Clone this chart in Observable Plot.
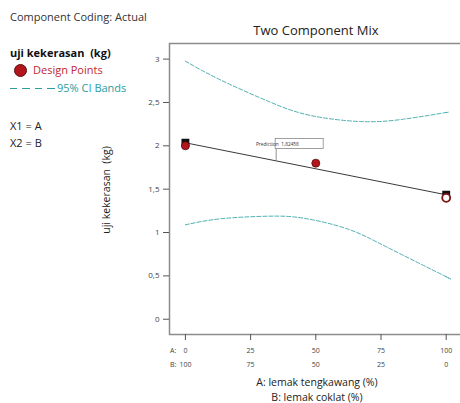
<!DOCTYPE html>
<html>
<head>
<meta charset="utf-8">
<script src="https://cdn.jsdelivr.net/npm/d3@7"></script>
<script src="https://cdn.jsdelivr.net/npm/@observablehq/plot@0.6"></script>
<style>
  html, body { margin: 0; padding: 0; background: #fff; }
  #wrap { position: relative; width: 460px; height: 403px; font-family: "Open Sans", "Noto Sans", sans-serif; color: #222; overflow: hidden; }
  #wrap svg { position: absolute; left: 0; top: 0; }
  .t { position: absolute; white-space: nowrap; line-height: 14px; }
</style>
</head>
<body>
<div id="wrap"></div>
<script>
// ---- data ----
const aTicks = [0, 25, 50, 75, 100];
const aTickLabels = ["0", "25", "50", "75", "100"];
const bTickLabels = ["100", "75", "50", "25", "0"];
const yTicks = [0, 0.5, 1, 1.5, 2, 2.5, 3];
const yTickLabels = ["0", "0,5", "1", "1,5", "2", "2,5", "3"];

// Design points (A %, hardness kg)
const designA = [0, 50];
const designY = [2.0, 1.8];
const openA = [100];
const openY = [1.4];

// Fitted linear mixture model (line ends)
const fitA = [0, 100];
const fitY = [2.035, 1.435];

// 95% CI bands
const upperA = [0, 13.4, 32.6, 48, 67, 83.6, 99.1, 100];
const upperY = [2.976, 2.761, 2.503, 2.35, 2.28, 2.307, 2.38, 2.382];
const lowerA = [0, 13.4, 31.3, 45.4, 62, 77.4, 99.1, 100];
const lowerY = [1.089, 1.158, 1.188, 1.165, 1.043, 0.83, 0.504, 0.49];

// Prediction flag
const predA = 35;
const predY = 1.82458;
const predLabel = "Prediction  1,82458";

const toRows = (xs, ys) => xs.map((x, i) => ({x, y: ys[i]}));
const design = toRows(designA, designY);
const openPts = toRows(openA, openY);
const fit = toRows(fitA, fitY);
const upper = toRows(upperA, upperY);
const lower = toRows(lowerA, lowerY);

const teal = "#4fb0b0";
const gray = "#8c8c8c";

const chart = Plot.plot({
  width: 460,
  height: 403,
  marginLeft: 169,
  marginTop: 43,
  marginBottom: 69,
  marginRight: -2,
  style: {fontFamily: "'Open Sans', 'Noto Sans', sans-serif", background: "transparent"},
  x: {domain: [-6.1, 106.25]},
  y: {domain: [-0.176, 3.18]},
  marks: [
    Plot.frame({stroke: gray, strokeWidth: 1.5}),
    Plot.axisY({
      ticks: yTicks,
      tickFormat: (d) => yTickLabels[yTicks.indexOf(d)],
      tickSize: 6, tickPadding: 4, fontSize: 8, color: "#444",
      stroke: "#555",
      label: null
    }),
    Plot.axisX({
      ticks: aTicks,
      tickFormat: () => "",
      tickSize: 6, stroke: "#555",
      label: null
    }),
    Plot.text(aTicks, {x: (d) => d, text: (d, i) => aTickLabels[i], frameAnchor: "bottom", dy: 16.5, fontSize: 7, fill: "#444", lineAnchor: "middle"}),
    Plot.text(aTicks, {x: (d) => d, text: (d, i) => bTickLabels[i], frameAnchor: "bottom", dy: 30.5, fontSize: 7, fill: "#444", lineAnchor: "middle"}),
    Plot.text(["A:"], {text: (d) => d, frameAnchor: "bottom-left", dx: 0.5, dy: 16.5, fontSize: 7, fill: "#444", textAnchor: "start", lineAnchor: "middle"}),
    Plot.text(["B:"], {text: (d) => d, frameAnchor: "bottom-left", dx: 0.5, dy: 30.5, fontSize: 7, fill: "#444", textAnchor: "start", lineAnchor: "middle"}),
    Plot.line(upper, {x: "x", y: "y", stroke: teal, strokeWidth: 1, strokeDasharray: "4,2", curve: "natural"}),
    Plot.line(lower, {x: "x", y: "y", stroke: teal, strokeWidth: 1, strokeDasharray: "4,2", curve: "natural"}),
    Plot.line(fit, {x: "x", y: "y", stroke: "#3a3a3a", strokeWidth: 1}),
    Plot.dot(fit, {x: "x", y: "y", symbol: "square", r: 3.6, fill: "#111", stroke: "#111"}),
    Plot.dot(design, {x: "x", y: "y", r: 4, fill: "#b3151c", stroke: "#5a0d0d", strokeWidth: 0.8}),
    Plot.dot(openPts, {x: "x", y: "y", r: 4, fill: "#fff", stroke: "#7a1313", strokeWidth: 1.8}),
    Plot.dot([{x: predA, y: predY}], {
      x: "x", y: "y", r: 1,
      render: (index, scales) => {
        const px = scales.x(predA), py = scales.y(predY);
        const g = d3.create("svg:g");
        g.append("line").attr("x1", px).attr("x2", px).attr("y1", py).attr("y2", py - 12)
          .attr("stroke", "#777").attr("stroke-width", 0.8);
        g.append("rect").attr("x", px - 1).attr("y", py - 22).attr("width", 48).attr("height", 10)
          .attr("fill", "#fff").attr("stroke", "#888").attr("stroke-width", 0.8);
        g.append("text").attr("x", px + 1.2).attr("y", py - 15).attr("font-size", 5.6)
          .attr("fill", "#333").attr("textLength", 43).attr("lengthAdjust", "spacingAndGlyphs").text(predLabel);
        return g.node();
      }
    })
  ]
});

const wrap = document.getElementById("wrap");
wrap.appendChild(chart);

function label(text, left, top, opts = {}) {
  const d = document.createElement("div");
  d.className = "t";
  d.textContent = text;
  d.style.left = left + "px";
  d.style.top = top + "px";
  Object.assign(d.style, opts);
  wrap.appendChild(d);
  return d;
}
// Title
label("Two Component Mix", 316, 23, {fontSize: "13px", transform: "translateX(-50%)", color: "#222"});
// Left legend
label("Component Coding: Actual", 10, 10, {fontSize: "11px", color: "#333"});
label("uji kekerasan  (kg)", 10, 46, {fontSize: "11px", fontWeight: "bold", color: "#111", whiteSpace: "pre"});
const dot = document.createElement("div");
Object.assign(dot.style, {position: "absolute", left: "14px", top: "64px", width: "11px", height: "11px", borderRadius: "50%", background: "#b3151c", border: "1px solid #5a0d0d"});
wrap.appendChild(dot);
label("Design Points", 33, 63, {fontSize: "11px", color: "#c0282d"});
const dash = document.createElement("div");
Object.assign(dash.style, {position: "absolute", left: "10px", top: "88px", width: "46px", height: "1px",
  background: "repeating-linear-gradient(to right, #2a9d9d 0 7px, transparent 7px 12.5px)"});
wrap.appendChild(dash);
label("95% CI Bands", 57, 81, {fontSize: "11px", color: "#2a9d9d"});
label("X1 = A", 10, 119, {fontSize: "11px", color: "#222"});
label("X2 = B", 10, 136, {fontSize: "11px", color: "#222"});
// Y axis title
label("uji kekerasan  (kg)", 106, 190, {fontSize: "10.5px", color: "#222", whiteSpace: "pre", transform: "translate(-50%, -50%) rotate(-90deg)"});
// X axis titles
label("A: lemak tengkawang (%)", 317, 375, {fontSize: "10.5px", transform: "translateX(-50%)", color: "#222"});
label("B: lemak coklat (%)", 317, 390, {fontSize: "10.5px", transform: "translateX(-50%)", color: "#222"});
</script>
</body>
</html>
